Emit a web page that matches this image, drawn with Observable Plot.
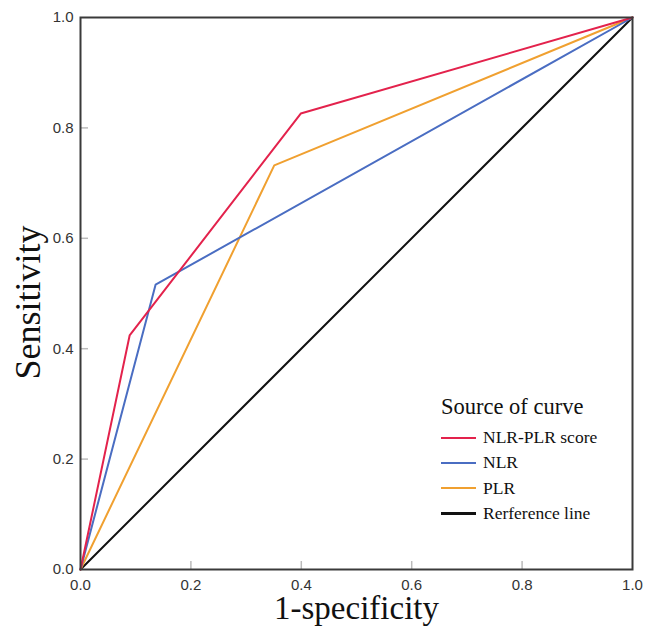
<!DOCTYPE html>
<html>
<head>
<meta charset="utf-8">
<script src="https://cdn.jsdelivr.net/npm/d3@7"></script>
<script src="https://cdn.jsdelivr.net/npm/@observablehq/plot@0.6"></script>
<style>
  html, body { margin: 0; padding: 0; background: #fff; }
  #wrap { position: relative; width: 646px; height: 629px; }
  #legend { position: absolute; left: 441px; top: 394px; font-family: "Liberation Serif", "Times New Roman", serif; color: #111; }
  #legend .title { font-size: 22.5px; line-height: 26px; margin-bottom: 5px; }
  #legend .item { display: flex; align-items: center; height: 25.3px; font-size: 17.5px; }
  #legend .sw { width: 35px; height: 2.2px; margin-right: 7px; }
</style>
</head>
<body>
<div id="wrap"></div>
<script>
const seriesNames = ["NLR-PLR score", "NLR", "PLR", "Rerference line"];
const seriesColors = ["#e3224c", "#4a6dc2", "#f0a030", "#111111"];
const fprScore = [0, 0.089, 0.399, 1];
const tprScore = [0, 0.424, 0.826, 1];
const fprNLR = [0, 0.136, 1];
const tprNLR = [0, 0.516, 1];
const fprPLR = [0, 0.351, 1];
const tprPLR = [0, 0.732, 1];
const fprRef = [0, 1];
const tprRef = [0, 1];
const tickValues = [0, 0.2, 0.4, 0.6, 0.8, 1.0];
const innerTicks = [0.2, 0.4, 0.6, 0.8];

const curves = [
  [fprScore, tprScore],
  [fprNLR, tprNLR],
  [fprPLR, tprPLR],
  [fprRef, tprRef]
];
const rows = [];
curves.forEach(([xs, ys], i) => xs.forEach((x, j) => rows.push({series: seriesNames[i], x, y: ys[j]})));
const order = [3, 2, 1, 0];

const marks = [
  Plot.tickX(innerTicks, {x: d => d, insetTop: 544, stroke: "#bbb", strokeWidth: 1.5}),
  Plot.tickY(innerTicks, {y: d => d, insetRight: 544, stroke: "#bbb", strokeWidth: 1.5}),
  ...order.map(i => Plot.line(rows.filter(r => r.series === seriesNames[i]), {x: "x", y: "y", stroke: seriesColors[i], strokeWidth: 2})),
  Plot.frame({stroke: "#3a3a3a", strokeWidth: 2}),
  Plot.axisX({ticks: tickValues, tickSize: 0, tickPadding: 10, tickFormat: d3.format(".1f"), label: null, fontSize: 15, fill: "#333"}),
  Plot.axisY({ticks: tickValues, tickSize: 0, tickPadding: 7, tickFormat: d3.format(".1f"), label: null, fontSize: 15, fill: "#333"}),
  Plot.text(["1-specificity"], {frameAnchor: "bottom", textAnchor: "middle", dy: 49, fontSize: 33, fontFamily: "Liberation Serif", fill: "#111"}),
  Plot.text(["Sensitivity"], {frameAnchor: "left", textAnchor: "middle", dx: -52, dy: 9, rotate: -90, fontSize: 36, fontFamily: "Liberation Serif", fill: "#111"})
];

const chart = Plot.plot({
  width: 646,
  height: 629,
  marginLeft: 80,
  marginRight: 14,
  marginTop: 17,
  marginBottom: 60,
  style: {fontFamily: "Liberation Sans, Arial, sans-serif", background: "#fff", overflow: "visible"},
  x: {domain: [0, 1]},
  y: {domain: [0, 1]},
  marks
});
const wrap = document.getElementById("wrap");
wrap.appendChild(chart);

const legend = document.createElement("div");
legend.id = "legend";
legend.innerHTML = `<div class="title">Source of curve</div>` +
  seriesNames.map((n, i) => `<div class="item"><div class="sw" style="background:${seriesColors[i]}"></div><span>${n}</span></div>`).join("");
wrap.appendChild(legend);
</script>
</body>
</html>
